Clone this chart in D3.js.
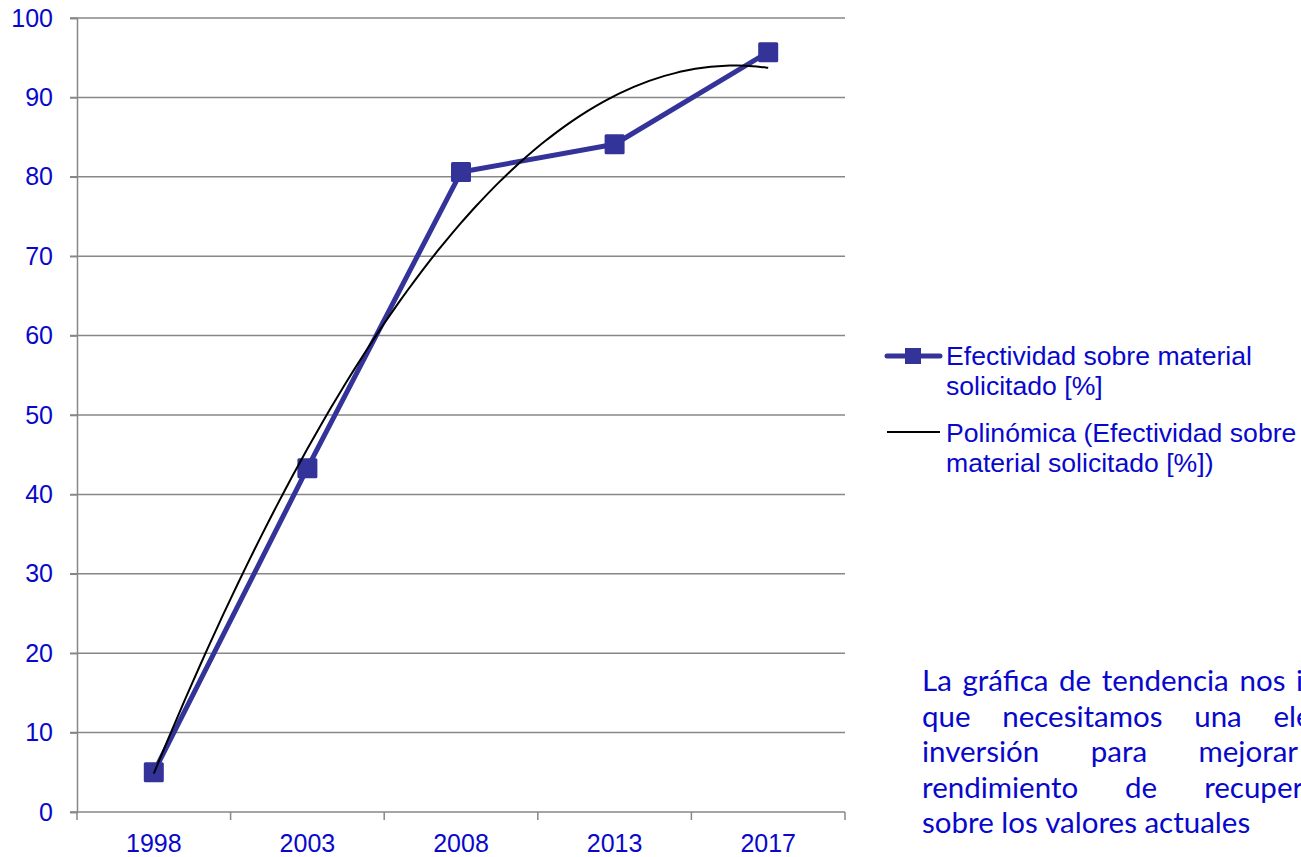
<!DOCTYPE html>
<html>
<head>
<meta charset="utf-8">
<script src="https://cdn.jsdelivr.net/npm/d3@7"></script>
<style>
  body { margin: 0; background: #fff; overflow: hidden; }
  svg { display: block; }
</style>
</head>
<body>
<svg id="chart" width="1301" height="857"></svg>
<script>
// data
const years = ['1998', '2003', '2008', '2013', '2017'];
const efectividad = [5.0, 43.3, 80.6, 84.1, 95.7];
const yTicks = [0, 10, 20, 30, 40, 50, 60, 70, 80, 90, 100];
const legendLabels = [
    ['Efectividad sobre material', 'solicitado [%]'],
    ['Polinómica (Efectividad sobre', 'material solicitado [%])']
];
const noteLines = [
    ['La', 'gráfica', 'de', 'tendencia', 'nos', 'indica'],
    ['que', 'necesitamos', 'una', 'elevada'],
    ['inversión', 'para', 'mejorar', 'el'],
    ['rendimiento', 'de', 'recuperación'],
    ['sobre', 'los', 'valores', 'actuales']
];

const svg = d3.select('#chart');
const textColor = '#0808cc';
const seriesColor = '#333399';
const gridColor = '#878787';

const plot = {left: 77, right: 845, top: 18, bottom: 812};

const xScale = d3.scaleBand()
    .domain(years)
    .range([plot.left, plot.right]);
const yScale = d3.scaleLinear()
    .domain([0, 100])
    .range([plot.bottom, plot.top]);

// grid lines
svg.append('g')
    .selectAll('line')
    .data(yTicks.filter((t) => t > 0))
    .enter()
    .append('line')
    .attr('x1', plot.left - 7)
    .attr('x2', plot.right)
    .attr('y1', (d) => yScale(d))
    .attr('y2', (d) => yScale(d))
    .attr('stroke', gridColor)
    .attr('stroke-width', 1.5);

// y axis
const yAxis = d3.axisLeft(yScale)
    .tickValues(yTicks)
    .tickSize(7)
    .tickPadding(17);
const yAxisGroup = svg.append('g')
    .attr('transform', `translate(${plot.left}, 0)`)
    .call(yAxis);

// x axis, ticks at category boundaries
const xAxisGroup = svg.append('g')
    .attr('transform', `translate(0, ${plot.bottom})`);
xAxisGroup.append('line')
    .attr('x1', plot.left - 7)
    .attr('x2', plot.right)
    .attr('stroke', gridColor)
    .attr('stroke-width', 1.5);
const boundaries = years.map((y) => xScale(y)).concat([plot.right]);
xAxisGroup.selectAll('line.tick')
    .data(boundaries)
    .enter()
    .append('line')
    .attr('class', 'tick')
    .attr('x1', (d) => d)
    .attr('x2', (d) => d)
    .attr('y1', 0)
    .attr('y2', 8)
    .attr('stroke', gridColor)
    .attr('stroke-width', 1.5);
xAxisGroup.selectAll('text')
    .data(years)
    .enter()
    .append('text')
    .attr('x', (d) => xScale(d) + xScale.bandwidth() / 2)
    .attr('y', 40)
    .attr('text-anchor', 'middle')
    .text((d) => d);

[yAxisGroup, xAxisGroup].forEach((g) => {
    g.select('.domain').attr('stroke', gridColor).attr('stroke-width', 1.5);
    g.selectAll('.tick line').attr('stroke', gridColor).attr('stroke-width', 1.5);
    g.selectAll('text')
        .attr('fill', textColor)
        .style('font-family', '"Liberation Sans", Arial, sans-serif')
        .style('font-size', '25px');
});

// series line + markers
const xPos = (i) => xScale(years[i]) + xScale.bandwidth() / 2;
const seriesLine = d3.line()
    .x((d, i) => xPos(i))
    .y((d) => yScale(d));

svg.append('path')
    .attr('d', seriesLine(efectividad))
    .attr('fill', 'none')
    .attr('stroke', seriesColor)
    .attr('stroke-width', 5)
    .attr('stroke-linejoin', 'round');

svg.selectAll('rect.marker')
    .data(efectividad)
    .enter()
    .append('rect')
    .attr('class', 'marker')
    .attr('x', (d, i) => xPos(i) - 10)
    .attr('y', (d) => yScale(d) - 10)
    .attr('width', 20)
    .attr('height', 20)
    .attr('rx', 1.5)
    .attr('fill', seriesColor);

// polynomial (order 2) least-squares trend, like the spreadsheet does
function quadFit(ys) {
    const n = ys.length;
    const xs = ys.map((d, i) => i + 1);
    const mx = d3.mean(xs);
    const t = xs.map((x) => x - mx);
    const st2 = d3.sum(t, (v) => v * v);
    const st4 = d3.sum(t, (v) => v ** 4);
    const sy = d3.sum(ys);
    const sty = d3.sum(t, (v, i) => v * ys[i]);
    const st2y = d3.sum(t, (v, i) => v * v * ys[i]);
    const b = sty / st2;
    const c = (n * st2y - st2 * sy) / (n * st4 - st2 * st2);
    const a = (sy - c * st2) / n;
    return (x) => a + b * (x - mx) + c * (x - mx) * (x - mx);
}
const trend = quadFit(efectividad);
const trendX = d3.scaleLinear().domain([1, efectividad.length]).range([xPos(0), xPos(efectividad.length - 1)]);
const trendPts = d3.range(1, efectividad.length + 0.001, 0.05);
svg.append('path')
    .attr('d', d3.line()
        .x((x) => trendX(x))
        .y((x) => yScale(trend(x)))
        .curve(d3.curveBasis)(trendPts))
    .attr('fill', 'none')
    .attr('stroke', '#000')
    .attr('stroke-width', 2);

// legend
const legend = svg.append('g');
legend.append('line')
    .attr('x1', 887).attr('x2', 940)
    .attr('y1', 356).attr('y2', 356)
    .attr('stroke', seriesColor)
    .attr('stroke-width', 5)
    .attr('stroke-linecap', 'round');
legend.append('rect')
    .attr('x', 905).attr('y', 348)
    .attr('width', 16).attr('height', 16)
    .attr('fill', seriesColor);
legend.append('line')
    .attr('x1', 887).attr('x2', 940)
    .attr('y1', 432).attr('y2', 432)
    .attr('stroke', '#000')
    .attr('stroke-width', 2);

legendLabels.forEach((lines, k) => {
    lines.forEach((txt, j) => {
        legend.append('text')
            .attr('x', 946)
            .attr('y', 365 + k * 77 + j * 30)
            .attr('fill', textColor)
            .style('font-family', '"Liberation Sans", Arial, sans-serif')
            .style('font-size', '26.6px')
            .text(txt);
    });
});

// justified note text (the page edge cuts it, as in the original)
const noteLeft = 922;
const noteRight = 1372;
const note = svg.append('g')
    .style('font-family', 'Lato, "Open Sans", sans-serif')
    .style('font-size', '29.5px')
    .attr('fill', textColor);
noteLines.forEach((words, li) => {
    const y = 691 + li * 35.5;
    const last = li === noteLines.length - 1;
    const nodes = words.map((w) => note.append('text').attr('y', y).text(w));
    const widths = nodes.map((n) => n.node().getComputedTextLength());
    const total = d3.sum(widths);
    const gap = last || words.length < 2 ? 7.5 : (noteRight - noteLeft - total) / (words.length - 1);
    let x = noteLeft;
    nodes.forEach((n, i) => {
        n.attr('x', x);
        x += widths[i] + gap;
    });
});
</script>
</body>
</html>
